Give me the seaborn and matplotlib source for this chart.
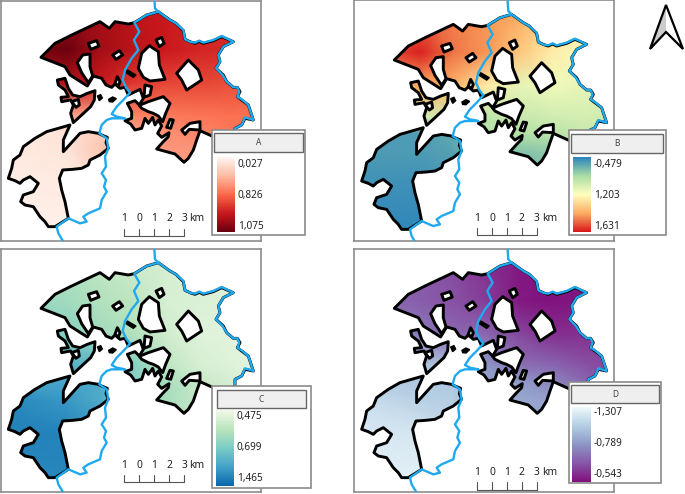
import matplotlib
matplotlib.use("Agg")
import matplotlib.pyplot as plt
import seaborn as sns
import numpy as np
from matplotlib.colors import LinearSegmentedColormap, TwoSlopeNorm
from matplotlib.patches import PathPatch, Polygon, Rectangle
from matplotlib.path import Path

# map geometry, in map units (3 units = 1 pixel)
main_area = [(123,172),(165,130),(215,105),(300,65),(328,85),(345,65),(385,72),(403,68),(440,45),(475,35),
             (510,60),(528,70),(550,92),(555,118),(572,126),(585,130),(598,124),(610,130),(640,122),(665,110),
             (700,125),(670,140),(655,165),(660,185),(648,205),(670,225),(680,245),(700,262),(712,262),(720,275),
             (712,290),(725,300),(745,315),(760,360),(735,355),(725,375),(705,385),(705,440),(640,410),(600,392),
             (590,420),(580,450),(565,475),(552,487),(525,462),(470,447),(490,425),(505,410),(507,398),(485,412),
             (473,400),(485,378),(475,360),(465,375),(458,352),(445,370),(435,355),(425,385),(405,390),(392,372),
             (375,362),(395,355),(395,335),(382,310),(405,302),(418,315),(430,295),(420,268),(385,285),(375,262),
             (360,265),(345,252),(335,262),(318,255),(305,235),(280,228),(262,258),(210,225),(195,200)]
west_area = [(172,240),(195,235),(205,265),(218,285),(240,290),(262,280),(285,272),(283,300),(272,320),(245,345),
             (220,368),(212,340),(220,315),(212,300),(185,305),(183,292),(205,290),(195,270),(175,255)]
south_area = [(210,375),(140,395),(105,415),(70,440),(60,465),(40,480),(35,505),(25,535),(45,542),(60,550),(70,540),
              (90,530),(115,550),(100,575),(70,585),(62,605),(75,615),(100,620),(120,650),(135,665),(145,680),(165,680),
              (205,655),(195,605),(185,570),(178,535),(188,510),(218,508),(245,505),(265,495),(270,480),(300,465),
              (325,445),(318,428),(322,412),(305,405),(295,400),(265,395),(240,400),(190,455),(190,420)]
holes = [
    [(415,205),(425,160),(448,137),(475,155),(478,195),(495,238),(450,243),(430,232)],
    [(265,130),(290,122),(297,138),(272,148)],
    [(338,165),(358,152),(368,165),(348,178)],
    [(232,188),(248,165),(270,162),(270,200),(278,228),(265,248),(245,218)],
    [(468,120),(485,112),(492,130),(478,140)],
    [(530,220),(565,180),(595,210),(605,240),(560,270),(545,240)],
    [(500,382),(510,358),(520,360),(512,385)],
    [(545,390),(570,370),(600,365),(600,390),(568,388),(555,403)],
    [(345,250),(352,230),(360,245),(355,258)],
    [(215,305),(235,298),(238,315),(228,322)],
    [(435,255),(455,260),(450,285),(432,292)],
    [(418,316),(445,305),(490,290),(510,310),(497,340),(488,365),(475,348),(460,340),(445,335),(425,325)],
]
black_spots = [[(382,210),(408,225),(400,232),(378,218)],
               [(292,288),(302,284),(307,294),(298,302)],
               [(326,298),(338,291),(349,296),(338,306),(328,305)]]
river_east = [(463,-5),(465,25),(475,35),(510,60),(528,70),(550,90),(555,118),(572,126),(585,128),(598,122),(610,128),
              (640,120),(665,108),(700,125),(670,140),(655,165),(660,185),(648,205),(668,225),(680,245),(700,262),
              (712,262),(718,275),(712,290),(725,298),(745,315),(760,360),(735,352),(725,375),(705,385),(705,400)]
river_west = [(475,35),(440,45),(403,68),(418,95),(402,120),(415,150),(395,175),(375,210),(368,240),(378,262),
              (390,278),(370,300),(350,320),(335,342),(350,350),(375,355),(335,355),(320,360),(305,375),(298,400),
              (320,415),(325,445),(315,470),(318,500),(305,520),(318,540),(312,560),(320,575),(305,600),(300,625),
              (265,640),(250,650),(260,665),(240,670),(205,655),(170,680),(175,700),(190,725)]

# values read at grid nodes
grid_x = [20, 200, 300, 400, 500, 600, 700, 800]
grid_y = [30, 150, 250, 345, 395, 450, 550, 690]
values_a = [[0.98, 1.00, 1.00, 0.97, 0.95, 0.93, 0.92, 0.90],
            [1.02, 1.07, 1.00, 0.97, 0.95, 0.93, 0.92, 0.90],
            [0.95, 0.98, 0.95, 0.90, 0.88, 0.88, 0.87, 0.85],
            [0.55, 0.55, 0.58, 0.70, 0.75, 0.78, 0.80, 0.80],
            [0.10, 0.15, 0.30, 0.55, 0.64, 0.70, 0.76, 0.78],
            [0.11, 0.14, 0.35, 0.55, 0.60, 0.62, 0.70, 0.75],
            [0.08, 0.10, 0.15, 0.30, 0.50, 0.60, 0.70, 0.75],
            [0.06, 0.07, 0.10, 0.30, 0.50, 0.60, 0.70, 0.75]]
values_b = [[1.45, 1.50, 1.48, 1.45, 1.42, 1.32, 1.25, 1.20],
            [1.50, 1.62, 1.50, 1.45, 1.35, 1.25, 1.15, 1.05],
            [1.35, 1.42, 1.40, 1.25, 0.95, 1.05, 0.95, 0.90],
            [0.50, 0.75, 0.72, 0.55, 0.65, 0.72, 0.78, 0.70],
            [-0.25, -0.25, -0.10, 0.45, 0.45, 0.50, 0.65, 0.65],
            [-0.25, -0.25, -0.20, 0.10, 0.10, 0.20, 0.40, 0.50],
            [-0.35, -0.35, -0.30, -0.20, -0.10, 0.10, 0.40, 0.50],
            [-0.45, -0.45, -0.40, -0.20, -0.10, 0.10, 0.40, 0.50]]
values_c = [[0.62, 0.60, 0.57, 0.55, 0.53, 0.52, 0.52, 0.52],
            [0.65, 0.63, 0.60, 0.58, 0.53, 0.52, 0.51, 0.50],
            [0.72, 0.68, 0.63, 0.60, 0.54, 0.51, 0.50, 0.50],
            [1.00, 0.95, 0.90, 0.68, 0.58, 0.53, 0.51, 0.50],
            [1.05, 1.05, 1.00, 0.68, 0.62, 0.56, 0.53, 0.52],
            [1.25, 1.15, 1.00, 0.68, 0.62, 0.56, 0.53, 0.52],
            [1.30, 1.28, 1.15, 0.90, 0.62, 0.56, 0.53, 0.52],
            [1.25, 1.25, 1.20, 0.90, 0.62, 0.56, 0.53, 0.52]]
values_d = [[-0.70, -0.68, -0.65, -0.60, -0.56, -0.56, -0.58, -0.60],
            [-0.72, -0.68, -0.66, -0.62, -0.56, -0.55, -0.56, -0.60],
            [-0.78, -0.74, -0.70, -0.70, -0.64, -0.60, -0.60, -0.62],
            [-1.05, -1.02, -0.98, -0.80, -0.72, -0.70, -0.66, -0.64],
            [-1.02, -1.03, -1.03, -0.85, -0.82, -0.76, -0.70, -0.66],
            [-1.15, -1.08, -1.05, -0.90, -0.88, -0.85, -0.75, -0.70],
            [-1.22, -1.20, -1.10, -1.00, -0.88, -0.82, -0.75, -0.70],
            [-1.26, -1.26, -1.20, -1.00, -0.88, -0.82, -0.75, -0.70]]

colors_a = ['#fff5f0', '#fcbba1', '#fb6a4a', '#cb181d', '#67000d']
colors_b = ['#2b83ba', '#abdda4', '#ffffbf', '#fdae61', '#d7191c']
colors_c = ['#f0f9e8', '#bae4bc', '#7bccc4', '#43a2ca', '#0868ac']
colors_d = ['#edf8fb', '#b3cde3', '#8c96c6', '#8856a7', '#810f7c']

breaks_a = [0.027, 0.826, 1.075]
breaks_b = [-0.479, 1.203, 1.631]
breaks_c = [0.475, 0.699, 1.465]
breaks_d = [-1.307, -0.789, -0.543]
labels_a = ['0,027', '0,826', '1,075']
labels_b = ['-0,479', '1,203', '1,631']
labels_c = ['0,475', '0,699', '1,465']
labels_d = ['-1,307', '-0,789', '-0,543']
scale_labels = ['1', '0', '1', '2', '3']

sns.set_theme(style="white")
plt.rcParams['font.family'] = ['Noto Sans', 'DejaVu Sans']
W, H = 685, 494
fig = plt.figure(figsize=(W / 100, H / 100), dpi=100)
fig.patch.set_facecolor('white')


def px_axes(x0, y0, x1, y1, z=1):
    return fig.add_axes([x0 / W, 1 - y1 / H, (x1 - x0) / W, (y1 - y0) / H], zorder=z)


overlay = px_axes(0, 0, W, H, z=5)
overlay.set_xlim(0, W)
overlay.set_ylim(H, 0)
overlay.axis('off')
overlay.patch.set_alpha(0)


def draw_panel(frame, offset, values, colors, breaks):
    ax = px_axes(*frame)
    ax.set_xticks([])
    ax.set_yticks([])
    for s in ax.spines.values():
        s.set_color('#8c8c8c')
        s.set_linewidth(1.2)
        s.set_visible(True)

    cmap = LinearSegmentedColormap.from_list('ramp', colors)
    norm = TwoSlopeNorm(vmin=breaks[0], vcenter=breaks[1], vmax=breaks[2])
    # gouraud keeps the faceted look of the interpolated surface
    mesh = ax.pcolormesh(grid_x, grid_y, np.array(values), cmap=cmap, norm=norm, shading='gouraud', zorder=1)
    ax.set_xlim((frame[0] - offset[0]) * 3, (frame[2] - offset[0]) * 3)
    ax.set_ylim((frame[3] - offset[1]) * 3, (frame[1] - offset[1]) * 3)

    rings = [Path(np.array(r + [r[0]]), closed=True) for r in (main_area, west_area, south_area)]
    compound = Path.make_compound_path(*rings)
    mesh.set_clip_path(PathPatch(compound, transform=ax.transData))

    for r in (main_area, west_area, south_area):
        ax.add_patch(Polygon(r, closed=True, fc='none', ec='black', lw=2.1, joinstyle='round', zorder=2))
    for h in holes:
        ax.add_patch(Polygon(h, closed=True, fc='white', ec='black', lw=2.1, joinstyle='round', zorder=3))
    for b in black_spots:
        ax.add_patch(Polygon(b, closed=True, fc='black', ec='black', lw=1, zorder=3))
    for r in (river_east, river_west):
        xs, ys = zip(*r)
        ax.plot(xs, ys, color='#1fa9ee', lw=1.7, solid_joinstyle='round', zorder=4)
    return cmap


def draw_legend(box, title_box, ramp_box, title, labels, label_ys, cmap):
    overlay.add_patch(Rectangle((box[0], box[1]), box[2] - box[0], box[3] - box[1], fc='white', ec='#8a8a8a', lw=1.2))
    overlay.add_patch(Rectangle((title_box[0], title_box[1]), title_box[2] - title_box[0], title_box[3] - title_box[1],
                                fc='#efefef', ec='#666666', lw=1.0))
    overlay.text((title_box[0] + title_box[2]) / 2, (title_box[1] + title_box[3]) / 2, title,
                 ha='center', va='center', fontsize=6, color='#444444')
    ramp_ax = px_axes(*ramp_box, z=6)
    ramp = np.linspace(0, 1, 128).reshape(-1, 1)
    sns.heatmap(ramp, ax=ramp_ax, cmap=cmap, cbar=False, xticklabels=False, yticklabels=False, vmin=0, vmax=1)
    for lab, y in zip(labels, label_ys):
        overlay.text(ramp_box[2] + 3, y, lab, ha='left', va='center', fontsize=7.2, color='#222222')


def draw_scale(x0, x1, base, top, label_y):
    xs = np.linspace(x0, x1, 5)
    overlay.plot([x0, x1], [base, base], color='#555555', lw=0.8)
    for x, lab in zip(xs, scale_labels):
        overlay.plot([x, x], [top, base], color='#555555', lw=0.8)
        overlay.text(x, label_y, lab, ha='center', va='center', fontsize=7.4, color='#222222')
    overlay.text(xs[-1] + 5, label_y, 'km', ha='left', va='center', fontsize=7.4, color='#222222')


cmap_a = draw_panel((0.5, 0.5, 260.5, 240.5), (0, 0), values_a, colors_a, breaks_a)
cmap_b = draw_panel((354, 0.5, 614, 241), (353.3, 2.7), values_b, colors_b, breaks_b)
cmap_c = draw_panel((0.5, 249.5, 260.5, 491.5), (0, 251), values_c, colors_c, breaks_c)
cmap_d = draw_panel((354, 249.5, 614, 492), (353.3, 251), values_d, colors_d, breaks_d)

draw_legend((212.5, 130, 305.5, 235), (214.5, 133, 303, 152), (217, 157, 235, 232), 'A', labels_a, [164, 195, 226], cmap_a)
draw_legend((569, 130, 666, 235), (571, 134, 663, 153), (573, 157, 591, 232), 'B', labels_b, [164, 195, 226], cmap_b)
draw_legend((212.5, 386, 311, 488), (217, 390, 306, 408), (216, 410, 234, 486), 'C', labels_c, [416, 447, 478], cmap_c)
draw_legend((569, 382, 661, 483), (571, 385, 659, 403), (572, 407, 591, 482), 'D', labels_d, [412, 443, 474], cmap_d)

draw_scale(124.3, 184.3, 235.7, 228.5, 218)
draw_scale(477.3, 536.7, 235.3, 228, 218)
draw_scale(124.3, 184.3, 482.3, 475, 465)
draw_scale(477.3, 536.7, 490, 482.3, 472.3)

# north arrow
overlay.add_patch(Polygon([(666, 5), (666, 32), (650, 49)], closed=True, fc='#cccccc', ec='none'))
overlay.add_patch(Polygon([(666, 5), (683, 49), (666, 32), (650, 49)], closed=True, fc='none', ec='black', lw=1.6))

fig.savefig('out.png', dpi=100)
